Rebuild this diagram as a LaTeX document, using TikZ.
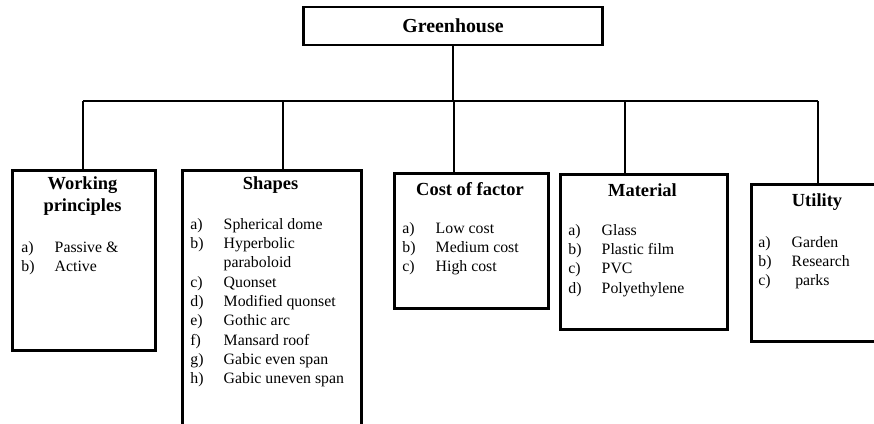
\documentclass[tikz,border=0pt]{standalone}
\usepackage{fontspec}
\setmainfont{Liberation Serif}
\usetikzlibrary{positioning}

\tikzset{
  box/.style={draw, line width=1.7pt, anchor=north west, inner sep=0pt},
  conn/.style={line width=1.1pt},
  head/.style={font=\fontsize{10.5}{13}\selectfont\bfseries, align=center, inner sep=0pt},
  items/.style={font=\fontsize{9}{11}\selectfont, align=left, anchor=north west, inner sep=0pt},
}
\newcommand{\itm}[2]{\makebox[19pt][l]{#1}#2}

\begin{document}
\begin{tikzpicture}[x=0.02cm, y=-0.02cm]
\useasboundingbox (0,0) rectangle (874,423);
\clip (0,0) rectangle (874,423);
% top box
\node[box, anchor=center, minimum width=6cm, minimum height=0.76cm,
  font=\fontsize{11.3}{13}\selectfont\bfseries] (gh) at (453,26) {Greenhouse};
% boxes
\node[box, minimum width=2.86cm, minimum height=3.6cm] (wp) at (11,169) {};
\node[box, minimum width=3.58cm, minimum height=5.6cm] (shp) at (181,169) {};
\node[box, minimum width=3.08cm, minimum height=2.7cm] (cof) at (393,172) {};
\node[box, minimum width=3.34cm, minimum height=3.1cm] (mat) at (559,173) {};
\node[box, minimum width=3.2cm, minimum height=3.14cm] (uti) at (750,183) {};
% connectors
\coordinate (bus) at (453,101);
\coordinate (b1) at (83,101);
\coordinate (b2) at (283,101);
\coordinate (b3) at (454,101);
\coordinate (b4) at (625,101);
\coordinate (b5) at (818,101);
\draw[conn] (gh.south) -- (bus);
\draw[conn] (b1) -- (b5);
\draw[conn] (b1) -- (b1 |- wp.north);
\draw[conn] (b2) -- (b2 |- shp.north);
\draw[conn] (b3) -- (b3 |- cof.north);
\draw[conn] (b4) -- (b4 |- mat.north);
\draw[conn] (b5) -- (b5 |- uti.north);
% headings
\node[head] (wph) at (82.5,196) {Working\\principles};
\node[head] (shph) at (270.5,185) {Shapes};
\node[head] (cofh) at (470,189) {Cost of factor};
\node[head] (math) at (642.5,190) {Material};
\node[head] (utih) at (817,202) {Utility};
% lists
\node[items] (wpl) at (21,241) {\itm{a)}{Passive \&}\\\itm{b)}{Active}};
\node[items] (shpl) at (190,218) {\itm{a)}{Spherical dome}\\
  \itm{b)}{Hyperbolic}\\\itm{}{paraboloid}\\
  \itm{c)}{Quonset}\\\itm{d)}{Modified quonset}\\
  \itm{e)}{Gothic arc}\\\itm{f)}{Mansard roof}\\
  \itm{g)}{Gabic even span}\\\itm{h)}{Gabic uneven span}};
\node[items] (cofl) at (402,222) {\itm{a)}{Low cost}\\\itm{b)}{Medium cost}\\\itm{c)}{High cost}};
\node[items] (matl) at (568,224) {\itm{a)}{Glass}\\\itm{b)}{Plastic film}\\\itm{c)}{PVC}\\\itm{d)}{Polyethylene}};
\node[items] (util) at (758,236) {\itm{a)}{Garden}\\\itm{b)}{Research}\\\itm{c)}{\hspace{2pt}parks}};
\end{tikzpicture}
\end{document}
